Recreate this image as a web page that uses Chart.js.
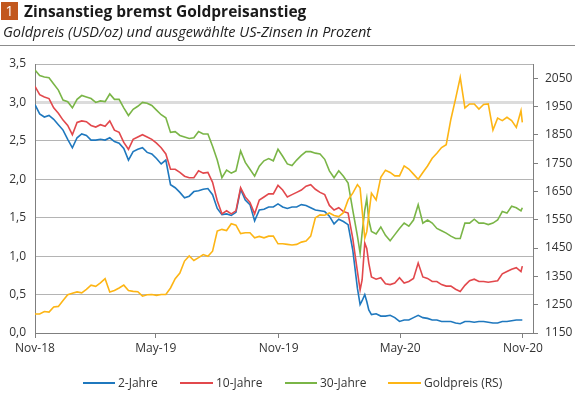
<!DOCTYPE html>
<html>
<head>
<meta charset="utf-8">
<script src="https://cdn.jsdelivr.net/npm/chart.js@4.4.1/dist/chart.umd.min.js"></script>
<style>
  html, body { margin: 0; padding: 0; background: #fff; }
  #wrap { position: relative; width: 579px; height: 393px; overflow: hidden; font-family: "Open Sans", "Noto Sans", sans-serif; color: #222; }
  #c { position: absolute; left: 0; top: 0; }
  .badge { position: absolute; left: 1px; top: 2px; width: 17px; height: 18px; background: #c2571d; color: #fff; font-size: 14px; line-height: 18px; text-align: center; }
  .title { position: absolute; left: 24px; top: 0px; font-size: 15.5px; font-weight: bold; line-height: 22px; color: #1a1a1a; white-space: nowrap; }
  .sub { position: absolute; left: 3px; top: 22px; font-size: 14.5px; font-style: italic; line-height: 20px; color: #222; white-space: nowrap; }
  .sep { position: absolute; left: 0; top: 45px; width: 575px; height: 1px; background: #8c8c8c; }
  .lg { position: absolute; top: 375px; height: 16px; font-size: 12px; line-height: 16px; color: #333; white-space: nowrap; }
  .lg i { position: absolute; top: 7px; height: 2px; }
</style>
</head>
<body>
<div id="wrap">
  <canvas id="c" width="579" height="393"></canvas>
  <div class="badge">1</div>
  <div class="title">Zinsanstieg bremst Goldpreisanstieg</div>
  <div class="sub">Goldpreis (USD/oz) und ausgewählte US-Zinsen in Prozent</div>
  <div class="sep"></div>
  <div id="legend"></div>
</div>
<script>
// Days since 1 Nov 2018
const days = [0,7,14,21,28,35,42,49,56,63,70,77,84,91,98,105,112,119,126,133,140,147,154,
  161,168,175,182,189,196,203,210,217,224,231,238,245,252,259,266,273,280,287,294,301,308,
  315,322,329,336,343,350,357,364,371,378,385,392,399,406,413,420,427,434,441,
  448,455,462,469,476,483,487,490,494,497,500,504,511,518,525,
  532,539,546,553,560,567,574,581,588,595,602,609,616,623,
  630,637,644,651,658,665,672,679,686,693,700,707,714,721,728,730];

const y2 = [2.97,2.85,2.81,2.83,2.78,2.71,2.64,2.52,2.41,2.54,2.59,2.57,2.51,2.51,2.52,2.51,2.54,2.49,2.47,2.40,2.25,2.36,2.39,
  2.41,2.35,2.33,2.27,2.20,2.25,1.93,1.89,1.83,1.76,1.78,1.84,1.85,1.87,1.88,1.80,1.62,1.54,1.55,1.53,1.57,1.87,
  1.73,1.67,1.46,1.60,1.61,1.64,1.64,1.68,1.64,1.62,1.64,1.64,1.67,1.66,1.63,1.60,1.59,1.58,1.52,
  1.42,1.48,1.45,1.41,1.08,0.58,0.37,0.42,0.50,0.41,0.30,0.24,0.25,0.22,0.22,
  0.23,0.20,0.15,0.17,0.17,0.20,0.23,0.20,0.19,0.17,0.17,0.15,0.15,0.15,
  0.13,0.12,0.15,0.15,0.14,0.15,0.15,0.14,0.13,0.13,0.15,0.15,0.16,0.17,0.17,0.17];

const y10 = [3.21,3.10,3.07,3.05,2.93,2.86,2.77,2.70,2.58,2.74,2.76,2.75,2.70,2.68,2.71,2.69,2.76,2.64,2.61,2.48,2.39,2.52,2.55,
  2.58,2.55,2.52,2.47,2.41,2.33,2.13,2.13,2.09,2.04,2.02,2.02,2.11,2.08,2.09,1.96,1.72,1.55,1.59,1.55,1.59,1.89,
  1.77,1.70,1.55,1.73,1.77,1.81,1.81,1.92,1.86,1.77,1.80,1.83,1.86,1.91,1.93,1.87,1.83,1.80,1.66,
  1.60,1.63,1.58,1.56,1.23,0.80,0.56,0.69,1.17,1.10,0.91,0.73,0.70,0.72,0.64,
  0.63,0.65,0.72,0.65,0.67,0.71,0.91,0.73,0.71,0.67,0.67,0.63,0.61,0.61,
  0.57,0.54,0.62,0.68,0.70,0.67,0.67,0.66,0.67,0.68,0.77,0.80,0.83,0.85,0.80,0.87];

const y30 = [3.42,3.35,3.33,3.32,3.24,3.16,3.03,3.01,2.93,3.04,3.09,3.07,3.05,3.00,3.02,3.01,3.11,3.04,3.04,2.93,2.83,2.91,2.95,
  3.00,2.99,2.96,2.90,2.84,2.80,2.61,2.62,2.57,2.55,2.53,2.54,2.62,2.59,2.59,2.43,2.25,2.02,2.12,2.08,2.11,2.37,
  2.22,2.13,2.04,2.17,2.24,2.27,2.24,2.39,2.30,2.20,2.18,2.25,2.31,2.36,2.36,2.34,2.33,2.26,2.11,
  2.02,2.11,2.04,1.95,1.60,1.26,1.04,1.30,1.60,1.75,1.47,1.32,1.29,1.38,1.27,
  1.20,1.28,1.36,1.43,1.39,1.47,1.67,1.43,1.47,1.43,1.36,1.33,1.30,1.26,
  1.23,1.23,1.43,1.43,1.48,1.43,1.43,1.41,1.43,1.47,1.58,1.56,1.65,1.63,1.59,1.63];

const gold = [1217,1217,1226,1224,1242,1244,1265,1285,1290,1295,1292,1304,1319,1315,1327,1342,1295,1300,1309,1319,1300,1297,1296,
  1280,1285,1286,1283,1286,1286,1309,1342,1362,1404,1422,1406,1416,1427,1421,1439,1510,1516,1512,1536,1531,1501,
  1504,1504,1486,1491,1486,1492,1492,1465,1465,1463,1461,1463,1471,1475,1492,1557,1567,1566,1574,
  1565,1561,1575,1620,1644,1674,1662,1585,1485,1508,1567,1644,1620,1700,1725,
  1717,1705,1705,1740,1729,1711,1693,1717,1740,1767,1785,1805,1815,1905,
  1977,2053,1945,1959,1959,1941,1957,1959,1867,1909,1900,1912,1900,1876,1935,1894];

const xTickDays = [0,181,365,547,731];
const xTickLabels = ['Nov-18','May-19','Nov-19','May-20','Nov-20'];
const leftTicks = [0,0.5,1,1.5,2,2.5,3,3.5];
const rightTicks = [1150,1250,1350,1450,1550,1650,1750,1850,1950,2050];

const seriesNames = ['2-Jahre','10-Jahre','30-Jahre','Goldpreis (RS)'];
const seriesColors = ['#1f78be','#e2484c','#7ab547','#fdb515'];

const pts = arr => days.map((d,i) => ({x: d, y: arr[i]}));
const axisGray = '#7f7f7f';
const tickFont = {family: '"Open Sans", "Noto Sans", sans-serif', size: 12};

new Chart(document.getElementById('c'), {
  type: 'line',
  data: {
    datasets: [
      {label: seriesNames[0], data: pts(y2), borderColor: seriesColors[0], yAxisID: 'y', order: 4},
      {label: seriesNames[1], data: pts(y10), borderColor: seriesColors[1], yAxisID: 'y', order: 3},
      {label: seriesNames[2], data: pts(y30), borderColor: seriesColors[2], yAxisID: 'y', order: 2},
      {label: seriesNames[3], data: pts(gold), borderColor: seriesColors[3], yAxisID: 'y1', order: 1}
    ]
  },
  options: {
    responsive: false,
    animation: false,
    events: [],
    parsing: false,
    layout: {padding: {top: 64, left: 0, right: 0, bottom: 0}},
    elements: {
      line: {borderWidth: 1.6, tension: 0, fill: false},
      point: {radius: 0}
    },
    plugins: {legend: {display: false}, tooltip: {enabled: false}, title: {display: false}},
    scales: {
      x: {
        type: 'linear', min: 0, max: 746,
        afterBuildTicks: s => { s.ticks = xTickDays.map(v => ({value: v})); },
        afterFit: s => { s.height = 60; },
        ticks: {
          autoSkip: false, maxRotation: 0, padding: 3, color: '#333', font: tickFont,
          callback: v => { const i = xTickDays.indexOf(v); return i >= 0 ? xTickLabels[i] : ''; }
        },
        grid: {drawOnChartArea: false, drawTicks: true, tickLength: 5, color: axisGray},
        border: {display: true, color: axisGray, width: 1}
      },
      y: {
        position: 'left', min: 0, max: 3.5,
        afterBuildTicks: s => { s.ticks = leftTicks.map(v => ({value: v})); },
        afterFit: s => { s.width = 35; },
        ticks: {
          padding: 9, color: '#333', font: tickFont,
          callback: v => v.toFixed(1).replace('.', ',')
        },
        grid: {
          drawTicks: false,
          color: c => (c.tick && c.tick.value === 3) ? '#dcdcdc' : '#b4b4b4',
          lineWidth: c => (c.tick && c.tick.value === 3) ? 3 : 1
        },
        border: {display: true, color: axisGray, width: 1}
      },
      y1: {
        position: 'right', min: 1150, max: 2100,
        afterBuildTicks: s => { s.ticks = rightTicks.map(v => ({value: v})); },
        afterFit: s => { s.width = 46; },
        ticks: {padding: 7, color: '#333', font: tickFont, callback: v => String(v)},
        grid: {drawOnChartArea: false, drawTicks: true, tickLength: 5, color: axisGray},
        border: {display: true, color: axisGray, width: 1}
      }
    }
  }
});

// Legend (HTML)
const legendPos = [[83, 118], [180, 216], [285, 320], [388, 424]];
const lg = document.getElementById('legend');
seriesNames.forEach((n, i) => {
  const d = document.createElement('div');
  d.className = 'lg';
  d.style.left = legendPos[i][0] + 'px';
  d.style.paddingLeft = (legendPos[i][1] - legendPos[i][0]) + 'px';
  const line = document.createElement('i');
  line.style.left = '0px';
  line.style.width = (legendPos[i][1] - legendPos[i][0] - 3) + 'px';
  line.style.background = seriesColors[i];
  d.appendChild(line);
  d.appendChild(document.createTextNode(n));
  lg.appendChild(d);
});
</script>
</body>
</html>
